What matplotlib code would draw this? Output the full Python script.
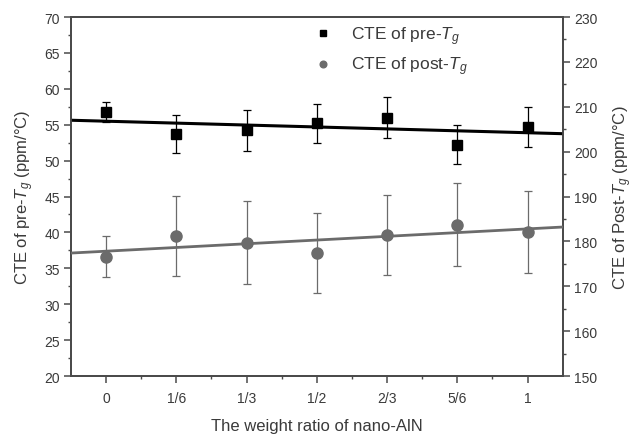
import numpy as np
import matplotlib
matplotlib.use("Agg")
import matplotlib.pyplot as plt
import matplotlib.ticker as ticker

plt.rcParams["font.family"] = ["Liberation Sans", "DejaVu Sans"]
plt.rcParams["mathtext.fontset"] = "custom"
plt.rcParams["mathtext.it"] = "Liberation Sans:italic"
plt.rcParams["mathtext.rm"] = "Liberation Sans"

# Données
ratios = ["0", "1/6", "1/3", "1/2", "2/3", "5/6", "1"]
cte_pre = [56.8, 53.7, 54.2, 55.2, 56.0, 52.2, 54.7]
err_pre = [1.4, 2.7, 2.8, 2.75, 2.8, 2.7, 2.8]
cte_post = [176.6, 181.2, 179.7, 177.4, 181.4, 183.7, 182.1]
err_post = [4.5, 9.0, 9.2, 8.9, 8.9, 9.2, 9.1]

texte = "#3a3a3a"
gris = "#6b6b6b"

x = np.arange(len(ratios))
x_lim = (-0.5, len(ratios) - 0.5)

fig = plt.figure(figsize=(6.33, 4.35), dpi=100)
ax = fig.add_axes([0.112, 0.1333, 0.777, 0.8253])
ax2 = ax.twinx()

# pre-Tg (axe de gauche)
ax.errorbar(x, cte_pre, yerr=err_pre, fmt="none", ecolor="black",
            elinewidth=0.9, capsize=3, capthick=0.9, zorder=3)
h_pre, = ax.plot(x, cte_pre, linestyle="None", marker="s", markersize=7.5,
                 color="black", zorder=4)
pente, ordonnee = np.polyfit(x, cte_pre, 1)
xl = np.array(x_lim)
ax.plot(xl, pente * xl + ordonnee, color="black", linewidth=2.2, zorder=3)

# post-Tg (axe de droite)
ax2.errorbar(x, cte_post, yerr=err_post, fmt="none", ecolor=gris,
             elinewidth=0.9, capsize=3, capthick=0.9, zorder=3)
h_post, = ax2.plot(x, cte_post, linestyle="None", marker="o", markersize=8,
                   color=gris, zorder=4)
pente2, ordonnee2 = np.polyfit(x, cte_post, 1)
ax2.plot(xl, pente2 * xl + ordonnee2, color=gris, linewidth=2.0, zorder=3)

# Axes
ax.set_xlim(*x_lim)
ax.set_xticks(x)
ax.set_xticklabels(ratios)
ax.xaxis.set_minor_locator(ticker.FixedLocator(x[:-1] + 0.5))
ax.set_ylim(20, 70)
ax.yaxis.set_major_locator(ticker.MultipleLocator(5))
ax.yaxis.set_minor_locator(ticker.MultipleLocator(2.5))
ax2.set_ylim(150, 230)
ax2.yaxis.set_major_locator(ticker.MultipleLocator(10))
ax2.yaxis.set_minor_locator(ticker.MultipleLocator(5))

for a in (ax, ax2):
    for s in a.spines.values():
        s.set_color("#4a4a4a")
        s.set_linewidth(1.3)
    a.tick_params(which="major", length=5, width=1.1, color="#4a4a4a",
                  labelsize=10, labelcolor=texte, direction="out")
    a.tick_params(which="minor", length=2.5, width=1.0, color="#4a4a4a",
                  direction="out")
ax.tick_params(axis="x", pad=6)
ax.tick_params(axis="y", pad=3)
ax2.tick_params(axis="y", pad=3)

ax.set_xlabel("The weight ratio of nano-AlN", fontsize=12, color=texte,
              labelpad=9)
ax.set_ylabel("CTE of pre-$T_g$ (ppm/°C)", fontsize=12, color=texte,
              labelpad=6)
ax2.set_ylabel("CTE of Post-$T_g$ (ppm/°C)", fontsize=12, color=texte,
               labelpad=10)

leg = ax.legend([h_pre, h_post],
                ["CTE of pre-$T_g$", "CTE of post-$T_g$"],
                loc="upper left", bbox_to_anchor=(0.454, 1.023), frameon=False,
                fontsize=12.5, handlelength=1.5, handletextpad=0.9,
                markerscale=0.6, labelspacing=0.45)
for t in leg.get_texts():
    t.set_color(texte)

fig.savefig("out.png", dpi=100)
